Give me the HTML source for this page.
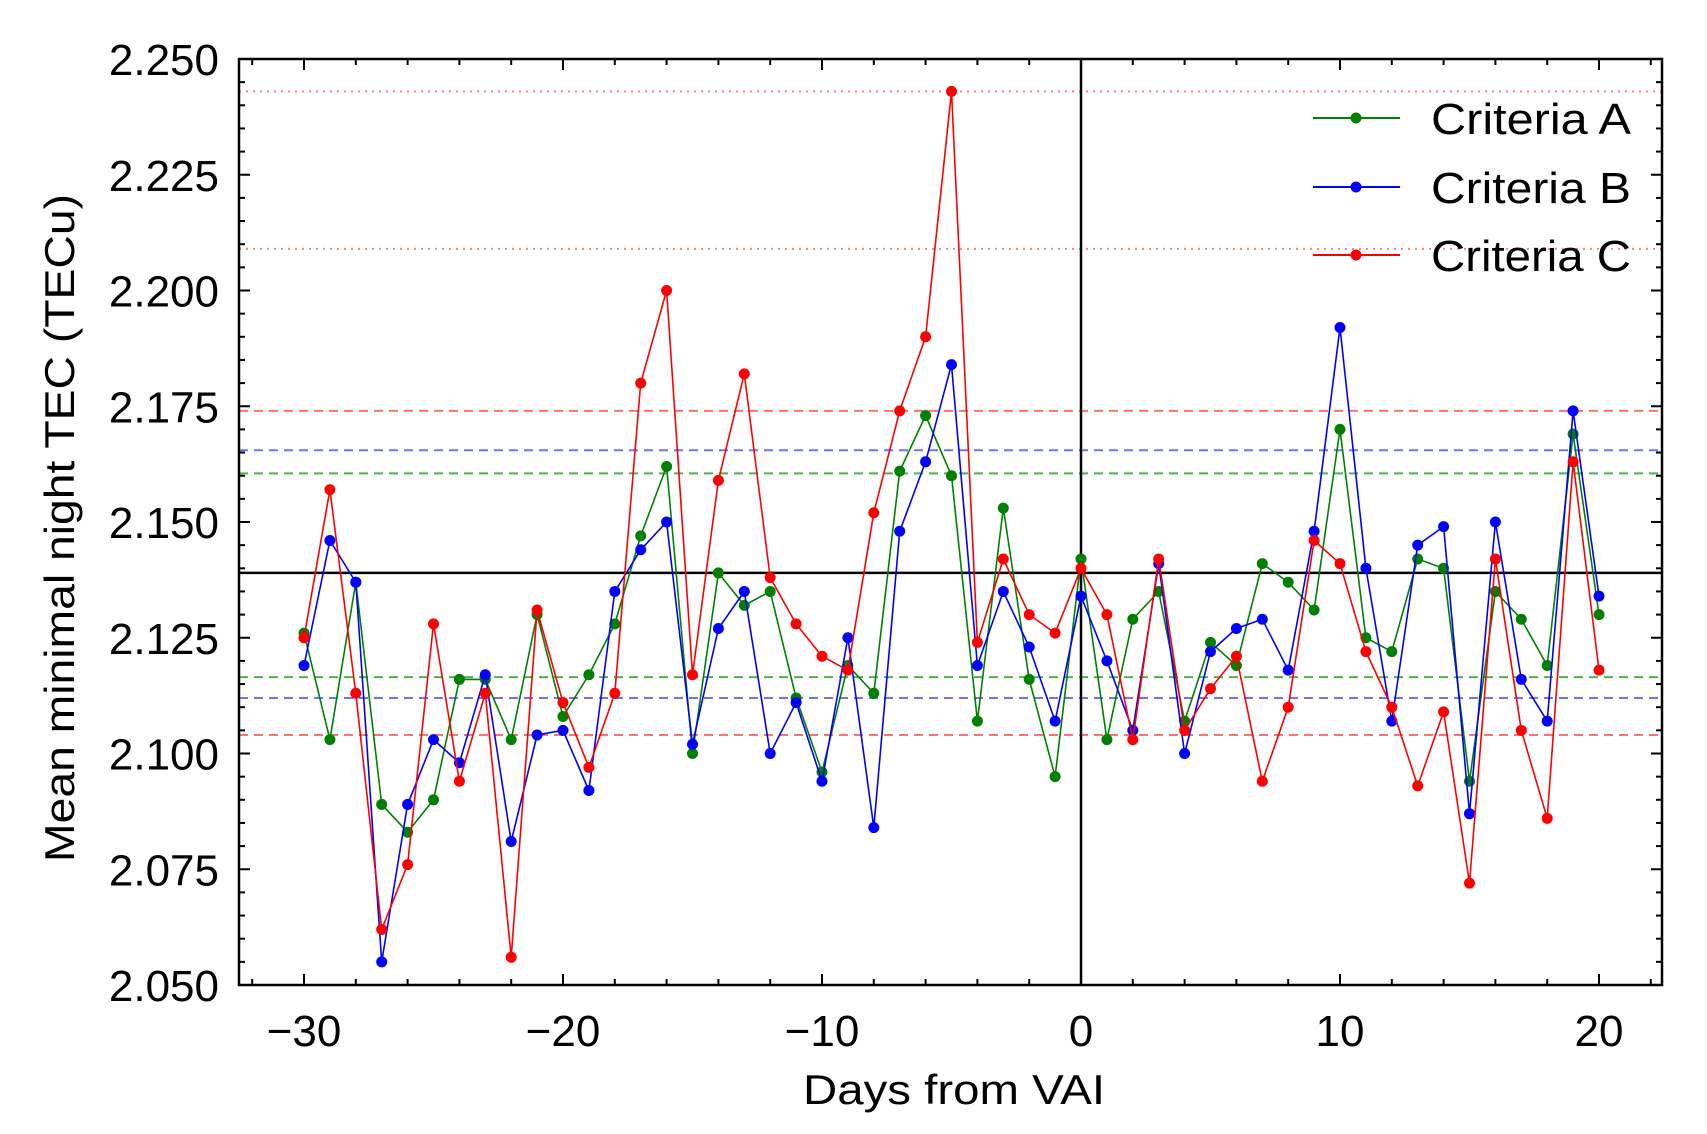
<!DOCTYPE html>
<html><head><meta charset="utf-8"><style>
html,body{margin:0;padding:0;background:#fff;}
svg{display:block;font-family:"Liberation Sans",sans-serif;}
</style></head><body>
<svg id="s" width="1707" height="1134" viewBox="0 0 1707 1134" xmlns="http://www.w3.org/2000/svg"></svg>
<script>
const s=document.getElementById('s');
const L=239,R=1662,T=59,B=985;
const X=d=>304+(d+30)*25.9;
const Y=v=>B-(v-2.05)*4630;
let h='';
function line(x1,y1,x2,y2,c,w,da){h+=`<line x1="${x1}" y1="${y1}" x2="${x2}" y2="${y2}" stroke="${c}" stroke-width="${w}"${da?` stroke-dasharray="${da}"`:''}/>`;}
[[2.243,'#ff8080','2,5'],[2.209,'#ff8080','2,5'],[2.174,'#ff7070','9,6'],[2.104,'#ff7070','9,6'],
 [2.1655,'#7070ff','9,6'],[2.112,'#7070ff','9,6'],[2.1605,'#50b050','9,6'],[2.1165,'#50b050','9,6']]
 .forEach(a=>line(L,Y(a[0]),R,Y(a[0]),a[1],2,a[2]));
line(L,Y(2.139),R,Y(2.139),'#000',2.5);
line(X(0),T,X(0),B,'#000',2.5);
const A=[2.126,2.103,2.137,2.089,2.083,2.090,2.116,2.116,2.103,2.130,2.108,2.117,2.128,2.147,2.162,2.100,2.139,2.132,2.135,2.112,2.096,2.119,2.113,2.161,2.173,2.160,2.107,2.153,2.116,2.095,2.142,2.103,2.129,2.135,2.107,2.124,2.119,2.141,2.137,2.131,2.170,2.125,2.122,2.142,2.140,2.094,2.135,2.129,2.119,2.169,2.130];
const Bv=[2.119,2.146,2.137,2.055,2.089,2.103,2.098,2.117,2.081,2.104,2.105,2.092,2.135,2.144,2.150,2.102,2.127,2.135,2.100,2.111,2.094,2.125,2.084,2.148,2.163,2.184,2.119,2.135,2.123,2.107,2.134,2.120,2.105,2.141,2.100,2.122,2.127,2.129,2.118,2.148,2.192,2.140,2.107,2.145,2.149,2.087,2.150,2.116,2.107,2.174,2.134];
const C=[2.125,2.157,2.113,2.062,2.076,2.128,2.094,2.113,2.056,2.131,2.111,2.097,2.113,2.180,2.200,2.117,2.159,2.182,2.138,2.128,2.121,2.118,2.152,2.174,2.190,2.243,2.124,2.142,2.130,2.126,2.140,2.130,2.103,2.142,2.105,2.114,2.121,2.094,2.110,2.146,2.141,2.122,2.110,2.093,2.109,2.072,2.142,2.105,2.086,2.163,2.118];
function series(d,c){let p=d.map((v,i)=>X(i-30).toFixed(1)+','+Y(v).toFixed(1)).join(' ');
 h+=`<polyline points="${p}" fill="none" stroke="${c}" stroke-width="1.6"/>`;
 d.forEach((v,i)=>h+=`<circle cx="${X(i-30)}" cy="${Y(v)}" r="5.5" fill="${c}"/>`);}
series(A,'#008000');series(Bv,'#0000ff');series(C,'#ff0000');
h+=`<rect x="${L}" y="${T}" width="${R-L}" height="${B-T}" fill="none" stroke="#000" stroke-width="2.5"/>`;
for(let d=-32;d<=22;d+=2){const x=X(d);const mj=d%10==0;const l=mj?11:6;
 line(x,B,x,B-l,'#000',2);line(x,T,x,T+l,'#000',2);
 if(mj)h+=`<text x="${x}" y="1046" font-size="44" text-anchor="middle">${d<0?'\u2212'+(-d):d}</text>`;}
for(let k=0;k<=40;k++){const v=2.05+k*0.005;const y=Y(v);const mj=k%5==0;const l=mj?11:6;
 line(L,y,L+l,y,'#000',2);line(R,y,R-l,y,'#000',2);
 if(mj)h+=`<text x="219" y="${y+16}" font-size="44" text-anchor="end">${v.toFixed(3)}</text>`;}
h+=`<text x="954" y="1104" font-size="42" text-anchor="middle" textLength="302" lengthAdjust="spacingAndGlyphs">Days from VAI</text>`;
h+=`<text transform="translate(74,528) rotate(-90)" font-size="42" text-anchor="middle" textLength="668" lengthAdjust="spacingAndGlyphs">Mean minimal night TEC (TECu)</text>`;
[['#008000','Criteria A',118],['#0000ff','Criteria B',187],['#ff0000','Criteria C',255]].forEach(a=>{
 line(1313,a[2],1400,a[2],a[0],2);h+=`<circle cx="1356" cy="${a[2]}" r="5.5" fill="${a[0]}"/>`;
 h+=`<text x="1431" y="${a[2]+16}" font-size="44" textLength="200" lengthAdjust="spacingAndGlyphs">${a[1]}</text>`;});
s.innerHTML=h;
</script>
</body></html>
